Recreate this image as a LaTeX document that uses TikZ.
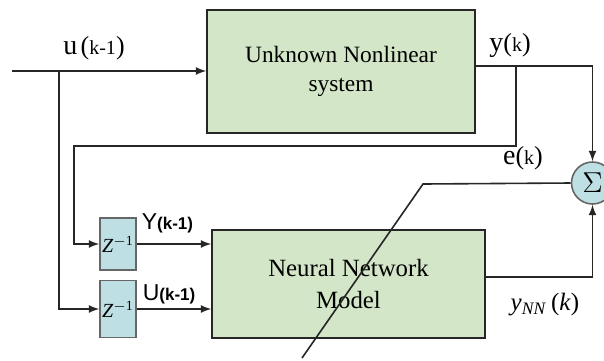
\documentclass[tikz,border=0pt]{standalone}
\usepackage{fontspec}
\setmainfont{Liberation Serif}
\setsansfont{Liberation Sans}
\usetikzlibrary{arrows}

\begin{document}
\begin{tikzpicture}[x=0.5pt,y=-0.5pt,line width=0.8pt,
	block/.style={draw=black!85,fill=mycolor1,minimum width=#1,inner sep=0pt,align=center},
	delay/.style={draw=black!60,fill=mycolor2,minimum width=18pt,inner sep=0pt,font=\fontsize{10}{10}\selectfont},
	wire/.style={draw=black!85,-latex}]
		\definecolor{mycolor1}{RGB}{211,230,199}
		\definecolor{mycolor2}{RGB}{190,224,228}

		\useasboundingbox (0,0) rectangle (604,360);

		\node[block=134pt,minimum height=61.5pt,font=\fontsize{11.7}{14.5}\selectfont] (sys) at (341,71.5) {Unknown Nonlinear\\system};
		\node[block=136.5pt,minimum height=54pt,font=\fontsize{12.4}{16}\selectfont] (nn) at (348.5,284) {Neural Network\\Model};
		\node[delay,minimum height=26pt] (zy) at (118,244) {\textit{Z}\textsuperscript{$-$1}};
		\node[delay,minimum height=28.5pt] (zu) at (118,309) {\textit{Z}\textsuperscript{$-$1}};
		\node[draw=black!60,fill=mycolor2,shape=circle,minimum width=21pt,minimum height=21pt,inner sep=0pt,font=\fontsize{14}{14}\selectfont] (sum) at (592.5,183) {$\Sigma$};

		\coordinate (in) at (12,71);
		\coordinate (ubr) at (59,71);
		\coordinate (yout) at (475,66);
		\coordinate (ybr) at (516,66);
		\coordinate (ycor) at (592.5,66);
		\coordinate (nnout) at (485,277);
		\coordinate (ebend) at (423,184);
		\coordinate (eend) at (302,358);

		\draw[wire] (in) -- (sys.west |- in);
		\draw[wire] (ubr) |- (zu.west);
		\draw[draw=black!85] (yout) -- (ycor);
		\draw[wire] (ycor) -- (sum.north);
		\draw[wire] (ybr) |- (74,146) |- (zy.west);
		\draw[wire] (zy.east) -- (nn.west |- zy.east);
		\draw[wire] (zu.east) -- (nn.west |- zu.east);
		\draw[wire] (nnout) -| (sum.south);
		\draw[draw=black!85] (sum.west) -- (ebend) -- (eend);

		\node (ulab) at (94,48) {{\fontsize{14}{14}\selectfont u}\,{\fontsize{13}{14}\selectfont(}{\fontsize{10}{10}\selectfont k-1}{\fontsize{13}{14}\selectfont)}};
		\node (ylab) at (510,45) {{\fontsize{14}{14}\selectfont y}{\fontsize{13}{14}\selectfont(}{\fontsize{10}{10}\selectfont k}{\fontsize{13}{14}\selectfont)}};
		\node (elab) at (523,158) {{\fontsize{14}{14}\selectfont e}{\fontsize{13}{14}\selectfont(}{\fontsize{10}{10}\selectfont k}{\fontsize{13}{14}\selectfont)}};
		\node[anchor=base west,inner sep=0pt] (yklab) at (141,229) {\sffamily{\fontsize{11.5}{12}\selectfont Y}{\fontsize{8.5}{10}\selectfont\bfseries(k-1)}};
		\node[anchor=base west,inner sep=0pt] (uklab) at (142,300) {\sffamily{\fontsize{11.5}{12}\selectfont U}{\fontsize{8.5}{10}\selectfont\bfseries(k-1)}};
		\node (nnlab) at (545,305) {\fontsize{12.5}{14}\selectfont\textit{y}\textsubscript{\textit{NN}}\,(\textit{k})};

\end{tikzpicture}
\end{document}
